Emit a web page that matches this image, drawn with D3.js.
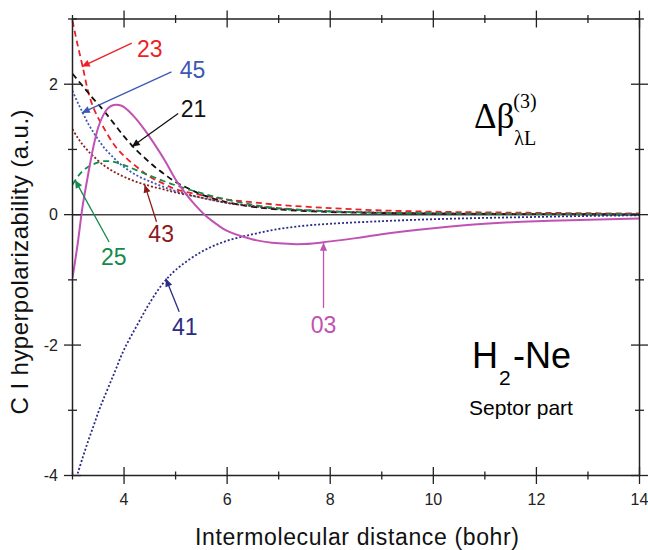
<!DOCTYPE html>
<html>
<head>
<meta charset="utf-8">
<script src="https://cdn.jsdelivr.net/npm/d3@7"></script>
<style>
  body { margin: 0; background: #fff; }
  svg { display: block; font-family: "Liberation Sans", Arial, Helvetica, sans-serif; }
</style>
</head>
<body>
<div id="chart"></div>
<script>

// intermolecular distance (bohr) where each curve was sampled
var x23 = [3.0, 3.1, 3.2, 3.3, 3.4, 3.5, 3.6, 3.8, 4.0, 4.25, 4.5, 4.75, 5.0, 5.5, 6.0, 6.5, 7.0, 8.0, 9.0, 10, 11, 12, 13, 14];
var y23 = [2.97, 2.6, 2.26, 1.9, 1.65, 1.48, 1.34, 1.08, 0.9, 0.73, 0.58, 0.48, 0.39, 0.3, 0.23, 0.19, 0.15, 0.1, 0.065, 0.045, 0.035, 0.028, 0.022, 0.018];

var x21 = [3.0, 3.2, 3.4, 3.6, 3.8, 4.0, 4.2, 4.4, 4.6, 4.8, 5.0, 5.25, 5.5, 6.0, 6.5, 7.0, 8.0, 9.0, 10, 12, 14];
var y21 = [2.16, 1.97, 1.78, 1.6, 1.4, 1.2, 1.02, 0.87, 0.73, 0.61, 0.5, 0.4, 0.31, 0.19, 0.12, 0.08, 0.04, 0.025, 0.015, 0.008, 0.005];

var x45 = [3.0, 3.1, 3.2, 3.3, 3.4, 3.5, 3.6, 3.8, 4.0, 4.25, 4.5, 4.75, 5.0, 5.5, 6.0, 6.5, 7.0, 8.0, 9.0, 10, 12, 14];
var y45 = [1.9, 1.72, 1.56, 1.4, 1.27, 1.15, 1.04, 0.87, 0.73, 0.6, 0.51, 0.43, 0.36, 0.26, 0.18, 0.13, 0.09, 0.05, 0.03, 0.02, 0.01, 0.005];

var x43 = [3.0, 3.1, 3.2, 3.3, 3.4, 3.6, 3.8, 4.0, 4.25, 4.5, 4.75, 5.0, 5.5, 6.0, 6.5, 7.0, 8.0, 9.0, 10, 12, 14];
var y43 = [1.31, 1.18, 1.07, 0.98, 0.9, 0.76, 0.66, 0.58, 0.5, 0.44, 0.39, 0.34, 0.26, 0.18, 0.13, 0.09, 0.05, 0.03, 0.02, 0.01, 0.005];

var x25 = [3.0, 3.1, 3.2, 3.3, 3.4, 3.5, 3.6, 3.7, 3.8, 4.0, 4.25, 4.5, 4.75, 5.0, 5.5, 6.0, 6.5, 7.0, 8.0, 9.0, 10, 12, 14];
var y25 = [0.46, 0.58, 0.67, 0.73, 0.77, 0.8, 0.82, 0.82, 0.81, 0.76, 0.68, 0.6, 0.52, 0.45, 0.33, 0.23, 0.15, 0.1, 0.05, 0.03, 0.02, 0.01, 0.005];

var x03 = [3.0, 3.1, 3.2, 3.3, 3.4, 3.5, 3.6, 3.7, 3.8, 3.9, 4.0, 4.2, 4.4, 4.6, 4.8, 5.0, 5.2, 5.4, 5.6, 5.8, 6.0, 6.5, 7.0, 7.5, 8.0, 8.5, 9.0, 10, 11, 12, 13, 14];
var y03 = [-0.97, -0.45, 0.15, 0.6, 1.02, 1.34, 1.53, 1.64, 1.68, 1.68, 1.65, 1.5, 1.3, 1.07, 0.82, 0.54, 0.32, 0.13, -0.03, -0.15, -0.25, -0.38, -0.44, -0.45, -0.41, -0.36, -0.3, -0.21, -0.14, -0.1, -0.08, -0.06];

var x41 = [3.1, 3.2, 3.3, 3.4, 3.5, 3.6, 3.8, 4.0, 4.25, 4.5, 4.75, 5.0, 5.5, 6.0, 6.5, 7.0, 7.5, 8.0, 9.0, 10, 11, 12, 13, 14];
var y41 = [-3.97, -3.72, -3.48, -3.26, -3.03, -2.83, -2.45, -2.07, -1.7, -1.35, -1.06, -0.85, -0.57, -0.4, -0.3, -0.22, -0.17, -0.14, -0.1, -0.07, -0.05, -0.035, -0.02, -0.01];

var xTicks = [3, 4, 5, 6, 7, 8, 9, 10, 11, 12, 13, 14];
var xTickLabels = [4, 6, 8, 10, 12, 14];
var yTicks = [-4, -3, -2, -1, 0, 1, 2, 3];
var yTickLabels = [-4, -2, 0, 2];

// label, colour, dash, arrow tip [x,y], arrow tail [x,y], text baseline [x,y]
var series = [
  { name: "23", xs: x23, ys: y23, color: "#ee1f26", dash: "6,4", tip: [3.18, 2.27], tail: [4.15, 2.63], text: [4.5, 2.42] },
  { name: "45", xs: x45, ys: y45, color: "#3d58b2", dash: "2,2", tip: [3.18, 1.56], tail: [4.92, 2.19], text: [5.33, 2.09] },
  { name: "21", xs: x21, ys: y21, color: "#111111", dash: "6,4", tip: [4.15, 1.04], tail: [5.05, 1.55], text: [5.35, 1.5] },
  { name: "43", xs: x43, ys: y43, color: "#8c1b1d", dash: "2,2", tip: [4.4, 0.46], tail: [4.63, -0.11], text: [4.72, -0.42] },
  { name: "25", xs: x25, ys: y25, color: "#148a4b", dash: "6,4", tip: [3.05, 0.53], tail: [3.71, -0.42], text: [3.8, -0.77] },
  { name: "41", xs: x41, ys: y41, color: "#2a2c85", dash: "2,2", tip: [4.81, -0.98], tail: [5.07, -1.49], text: [5.18, -1.85] },
  { name: "03", xs: x03, ys: y03, color: "#c052b3", dash: null, tip: [7.87, -0.43], tail: [7.87, -1.43], text: [7.87, -1.82] }
];

var W = 648, H = 550;

var x = d3.scaleLinear().domain([3, 14]).range([72.5, 639.5]);
var y = d3.scaleLinear().domain([-4, 3]).range([475.5, 19]);

var svg = d3.select("#chart").append("svg")
    .attr("width", W)
    .attr("height", H);

svg.append("rect").attr("width", W).attr("height", H).attr("fill", "#fff");

var defs = svg.append("defs");
defs.append("clipPath").attr("id", "plot")
  .append("rect")
    .attr("x", x(3)).attr("y", y(3))
    .attr("width", x(14) - x(3)).attr("height", y(-4) - y(3));

series.forEach(function(s) {
    defs.append("marker")
        .attr("id", "arr" + s.name)
        .attr("viewBox", "0 -5 10 10")
        .attr("refX", 10).attr("refY", 0)
        .attr("markerUnits", "userSpaceOnUse")
        .attr("markerWidth", 12).attr("markerHeight", 8)
        .attr("orient", "auto")
      .append("path")
        .attr("d", "M0,-4.5L10,0L0,4.5Z")
        .attr("fill", s.color);
});

// zero line
svg.append("line")
    .attr("x1", x(3)).attr("x2", x(14))
    .attr("y1", y(0)).attr("y2", y(0))
    .attr("stroke", "#444").attr("stroke-width", 1.5);

var line = d3.line()
    .x(function(d) { return x(d[0]); })
    .y(function(d) { return y(d[1]); })
    .curve(d3.curveCatmullRom.alpha(0.5));

var curves = svg.append("g").attr("clip-path", "url(#plot)");

series.forEach(function(s) {
    var pts = s.xs.map(function(v, i) { return [v, s.ys[i]]; });
    curves.append("path")
        .attr("d", line(pts))
        .attr("fill", "none")
        .attr("stroke", s.color)
        .attr("stroke-width", s.dash ? 1.8 : 2)
        .attr("stroke-dasharray", s.dash);
});

// arrows + labels
series.forEach(function(s) {
    svg.append("line")
        .attr("x1", x(s.tail[0])).attr("y1", y(s.tail[1]))
        .attr("x2", x(s.tip[0])).attr("y2", y(s.tip[1]))
        .attr("stroke", s.color)
        .attr("stroke-width", 1.3)
        .attr("marker-end", "url(#arr" + s.name + ")");
    svg.append("text")
        .attr("x", x(s.text[0])).attr("y", y(s.text[1]))
        .attr("text-anchor", "middle")
        .attr("fill", s.color)
        .style("font-size", "23px")
        .text(s.name);
});

// frame
svg.append("rect")
    .attr("x", x(3)).attr("y", y(3))
    .attr("width", x(14) - x(3)).attr("height", y(-4) - y(3))
    .attr("fill", "none").attr("stroke", "#222").attr("stroke-width", 1.5);

var ticks = svg.append("g").attr("stroke", "#222").attr("stroke-width", 1.3);

xTicks.forEach(function(t) {
    var len = t % 2 === 0 ? 8.5 : 4;
    [y(-4), y(3)].forEach(function(yy) {
        ticks.append("line")
            .attr("x1", x(t)).attr("x2", x(t))
            .attr("y1", yy - len).attr("y2", yy + len);
    });
});
yTicks.forEach(function(t) {
    var len = t % 2 === 0 ? 8.5 : 4.5;
    [x(3), x(14)].forEach(function(xx) {
        ticks.append("line")
            .attr("x1", xx - len).attr("x2", xx + len)
            .attr("y1", y(t)).attr("y2", y(t));
    });
});

svg.selectAll(".xl").data(xTickLabels).enter().append("text")
    .attr("x", function(d) { return x(d); })
    .attr("y", 505)
    .attr("text-anchor", "middle")
    .attr("fill", "#222")
    .style("font-size", "16px")
    .text(function(d) { return d; });

svg.selectAll(".yl").data(yTickLabels).enter().append("text")
    .attr("x", 58)
    .attr("y", function(d) { return y(d); })
    .attr("dy", "0.36em")
    .attr("text-anchor", "end")
    .attr("fill", "#222")
    .style("font-size", "16px")
    .text(function(d) { return d; });

// axis titles
svg.append("text")
    .attr("x", 357).attr("y", 545)
    .attr("text-anchor", "middle")
    .attr("textLength", 324).attr("lengthAdjust", "spacing")
    .attr("fill", "#111")
    .style("font-size", "23px")
    .text("Intermolecular distance (bohr)");

svg.append("text")
    .attr("transform", "translate(28,262) rotate(-90)")
    .attr("text-anchor", "middle")
    .attr("textLength", 305).attr("lengthAdjust", "spacing")
    .attr("fill", "#111")
    .style("font-size", "24px")
    .text("C I hyperpolarizability  (a.u.)");

// Δβ label, super/subscript placed right after the measured glyphs
var serif = "'Liberation Serif', 'Times New Roman', serif";
var db = svg.append("text")
    .attr("x", 474).attr("y", 128)
    .style("font-family", serif).style("font-size", "35px")
    .text("Δβ");
var dbEnd = 474 + db.node().getComputedTextLength();
svg.append("text")
    .attr("x", dbEnd - 1).attr("y", 108)
    .style("font-family", serif).style("font-size", "20px")
    .text("(3)");
svg.append("text")
    .attr("x", dbEnd).attr("y", 145)
    .style("font-family", serif).style("font-size", "20px")
    .text("λL");

// H2-Ne
svg.append("text")
    .attr("x", 472).attr("y", 368)
    .style("font-size", "36px")
    .text("H");
svg.append("text")
    .attr("x", 499).attr("y", 385)
    .style("font-size", "21px")
    .text("2");
svg.append("text")
    .attr("x", 513).attr("y", 368)
    .style("font-size", "36px")
    .text("-Ne");

svg.append("text")
    .attr("x", 521).attr("y", 415)
    .attr("text-anchor", "middle")
    .style("font-size", "21px")
    .text("Septor part");

</script>
</body>
</html>
